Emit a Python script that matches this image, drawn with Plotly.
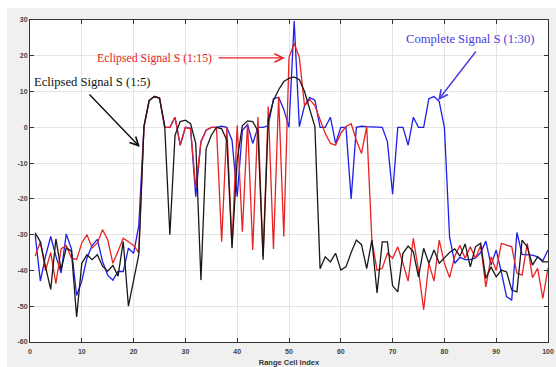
import plotly.graph_objects as go

cells = list(range(1, 101))

complete_1_30 = [
    -30, -43, -36, -30.5, -36, -40.7, -29.8, -34, -47, -43,
    -36.5, -33, -31.3, -37.5, -41.3, -42.7, -40.3, -40.3, -33.8, -35.2,
    -27.5, 0.2, 7.5, 8.6, 8.2, 0, 0, 2.8, -5, 0,
    -0.3, -19.4, -4, -0.8, 0, 0, 0.3, 0, -3.6, -19.4,
    -0.8, 0.8, -4.5, 0, 0, 0.5, 8, 8.4, 5, 0,
    29.7, 0.2, 6, 8.3, 7.6, 0, 0, 2.8, -4.5, 0,
    0, -20, 0, 0.3, 0.2, 0.2, 0, 0, -4, -18.7,
    0, 0, -5, 2.8, 0, 0, 8, 8.6, 7.2, 0,
    -30.6, -38, -36.3, -37, -37, -36.5, -35, -31.8, -38.5, -34.3,
    -40.5, -47.3, -48.3, -29.4, -35.5, -35.7, -35.7, -36.2, -37.3, -34.3,
]

eclipsed_1_15 = [
    -36, -32, -40, -35, -43.7, -34, -33, -36.5, -37, -32.3,
    -30, -33.7, -32.3, -28.6, -31.4, -38, -34.6, -31, -32, -33,
    -35, 0.2, 7.5, 8.6, 8.2, 0, 0, 2.8, -5, 0,
    -0.4, -17, -4, -0.8, 0, 0, -32, 0, -33, 0.6,
    -29.2, 1.1, -34.3, 2.9, -36, 5.8, -34, 8.5, -30.5, 19.5,
    23.5, 19.5, 6, 7.8, 6, 2, -1.7, -4.5, -5, -1.7,
    0.2, 1, -3.6, -7.3, 0.2, -31.5, -40, -39.4, -35.2, -36.6,
    -33.4, -38, -43, -31, -40, -51, -38, -43, -31.5, -38,
    -42, -36, -33, -36.6, -33.4, -36.6, -33, -44.6, -36.2, -40,
    -32.4, -32.9, -33.4, -40.8, -41.3, -32.4, -42, -39.4, -47.8, -39.4,
]

eclipsed_1_5 = [
    -29.5, -32, -39, -45.3, -31.2, -39.8, -33.7, -34.6, -53, -38,
    -35.6, -37, -35.6, -38.8, -40.2, -38.6, -41.6, -31.9, -50, -42.5,
    -35.6, 0.2, 7.5, 8.6, 8.2, 0.5, -30, -2.2, 1.6, 2,
    1, -4.5, -42.7, -6, -2.2, 0, -0.4, -3.6, -33.8, -9,
    0.5, 1.8, 1.6, -1, -37, 2, 7.5, 10.5, 12.8, 13.7,
    14.1, 13.3, 10, 5, 0.2, -39.5, -36.2, -37.6, -35.2, -39.9,
    -39, -35, -31.5, -32.8, -39.5, -31.5, -46.3, -32, -32, -44.3,
    -46, -35.2, -33.2, -34.8, -41.8, -33.8, -38, -34.3, -38, -36.5,
    -35, -34, -36, -32.6, -39, -33.4, -32.4, -42.2, -39, -41.8,
    -39.9, -40.4, -45.5, -46, -31.5, -33.4, -38.5, -36.2, -37.6, -37.6,
]

x_ticks = [0, 10, 20, 30, 40, 50, 60, 70, 80, 90, 100]
y_ticks = [-60, -50, -40, -30, -20, -10, 0, 10, 20, 30]

BLUE = "rgb(30,30,235)"
RED = "rgb(232,35,35)"
BLACK = "rgb(25,25,25)"
BLUE_TXT = "rgb(70,60,225)"

fig = go.Figure()
fig.add_trace(go.Scatter(x=cells, y=complete_1_30, mode="lines",
                         line=dict(color=BLUE, width=1.3), name="Complete Signal S (1:30)"))
fig.add_trace(go.Scatter(x=cells, y=eclipsed_1_15, mode="lines",
                         line=dict(color=RED, width=1.3), name="Eclipsed Signal S (1:15)"))
fig.add_trace(go.Scatter(x=cells, y=eclipsed_1_5, mode="lines",
                         line=dict(color=BLACK, width=1.3), name="Eclipsed Signal S (1:5)"))

tickfont = dict(family="Liberation Sans, Arial", size=7, color="#444444", weight="bold")

fig.update_xaxes(range=[0, 100], tickvals=x_ticks, ticktext=[str(v) for v in x_ticks],
                 automargin=False,
                 showgrid=True, gridcolor="#e4e4e4", gridwidth=1,
                 showline=True, linecolor="#333333", linewidth=1, mirror="ticks",
                 ticks="inside", ticklen=4, tickcolor="#333333", tickfont=tickfont,
                 ticklabelstandoff=3,
                 zeroline=False,
                 title=dict(text="Range Cell Index", standoff=6,
                            font=dict(family="Liberation Sans, Arial", size=7.5,
                                      color="#333333", weight="bold")))
fig.update_yaxes(range=[-60, 30], tickvals=y_ticks, ticktext=[str(v) for v in y_ticks],
                 automargin=False,
                 showgrid=True, gridcolor="#e4e4e4", gridwidth=1,
                 showline=True, linecolor="#333333", linewidth=1, mirror="ticks",
                 ticks="inside", ticklen=4, tickcolor="#333333", tickfont=tickfont,
                 zeroline=False)

serif = "Liberation Serif, Times New Roman, serif"
annotations = [
    dict(x=11.9, y=12.6, text="Eclipsed Signal S (1:5)", showarrow=False,
         font=dict(family=serif, size=12.6, color="#111111")),
    dict(x=24.0, y=19.4, text="Eclipsed Signal S (1:15)", showarrow=False,
         font=dict(family=serif, size=11.8, color=RED)),
    dict(x=85.0, y=24.7, text="Complete Signal S (1:30)", showarrow=False,
         font=dict(family=serif, size=12.6, color=BLUE_TXT)),
    dict(x=21.2, y=-5.5, ax=11.2, ay=9.6, axref="x", ayref="y", text="",
         showarrow=True, arrowhead=5, arrowsize=1.2, arrowwidth=1.4, arrowcolor="#111111"),
    dict(x=49.2, y=19.4, ax=36.1, ay=19.4, axref="x", ayref="y", text="",
         showarrow=True, arrowhead=5, arrowsize=1.2, arrowwidth=1.4, arrowcolor=RED),
    dict(x=78.8, y=7.6, ax=86.3, ay=21.6, axref="x", ayref="y", text="",
         showarrow=True, arrowhead=5, arrowsize=1.2, arrowwidth=1.4, arrowcolor=BLUE_TXT),
]

shapes = [
    dict(type="rect", xref="paper", yref="paper", x0=-0.0444, x1=1.02, y0=-0.09, y1=1.0373,
         fillcolor="#f0f0f0", line=dict(width=0), layer="below"),
    dict(type="rect", xref="paper", yref="paper", x0=0, x1=1, y0=0, y1=1,
         fillcolor="white", line=dict(width=0), layer="below"),
]

fig.update_layout(
    width=556, height=367,
    margin=dict(l=30, r=8, t=20, b=25, autoexpand=False),
    paper_bgcolor="white", plot_bgcolor="white",
    showlegend=False,
    annotations=annotations,
    shapes=shapes,
)

fig.write_html("out.html")
